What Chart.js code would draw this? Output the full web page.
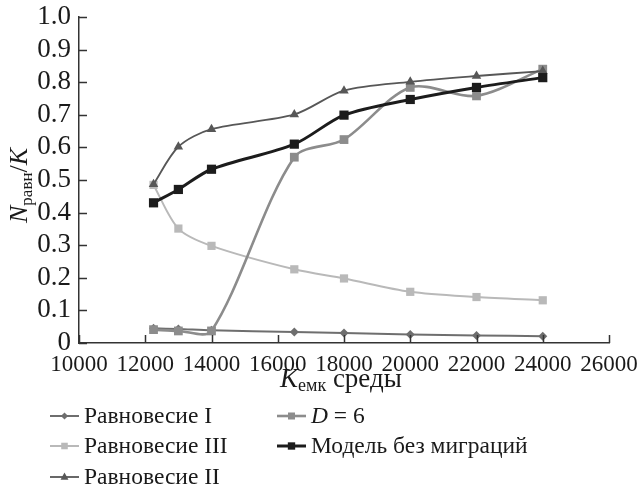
<!DOCTYPE html>
<html>
<head>
<meta charset="utf-8">
<script src="https://cdn.jsdelivr.net/npm/chart.js@4.4.1/dist/chart.umd.min.js"></script>
<style>
  html, body { margin: 0; padding: 0; background: #fff; }
  #wrap { width: 641px; height: 497px; position: relative; }
</style>
</head>
<body>
<div id="wrap"><canvas id="chart"></canvas></div>
<script>
// K (carrying capacity) values
const kValues = [12250, 13000, 14000, 16500, 18000, 20000, 22000, 24000];

// series values, N_eq / K
const eq1 = [0.045, 0.043, 0.039, 0.034, 0.031, 0.026, 0.023, 0.021];
const d6 = [0.041, 0.037, 0.037, 0.570, 0.624, 0.784, 0.758, 0.840];
const eq3 = [0.485, 0.351, 0.298, 0.226, 0.198, 0.157, 0.141, 0.131];
const noMigration = [0.430, 0.471, 0.533, 0.610, 0.699, 0.747, 0.784, 0.814];
const eq2 = [0.487, 0.602, 0.656, 0.701, 0.774, 0.801, 0.819, 0.834];

const xTicks = [10000, 12000, 14000, 16000, 18000, 20000, 22000, 24000, 26000];
const yTicks = [0, 0.1, 0.2, 0.3, 0.4, 0.5, 0.6, 0.7, 0.8, 0.9, 1.0];

const serif = '"Liberation Serif", "DejaVu Serif", serif';
const axisColor = '#333333';

const pts = vals => vals.map((v, i) => ({ x: kValues[i], y: v }));

const series = [
  { label: 'Равновесие I', data: eq1, color: '#6e6e6e', width: 2, style: 'rectRot', r: 4.5, order: 5 },
  { label: 'D = 6', data: d6, color: '#8c8c8c', width: 2.6, style: 'rect', r: 6.2, order: 3 },
  { label: 'Равновесие III', data: eq3, color: '#b9b9b9', width: 2, style: 'rect', r: 5.8, order: 4 },
  { label: 'Модель без миграций', data: noMigration, color: '#1c1c1c', width: 3, style: 'rect', r: 6.5, order: 1 },
  { label: 'Равновесие II', data: eq2, color: '#575757', width: 1.8, style: 'triangle', r: 5.5, order: 2 }
];

function drawMarker(ctx, style, x, y, r, color) {
  ctx.fillStyle = color;
  ctx.beginPath();
  if (style === 'rect') {
    const s = r / Math.SQRT2;
    ctx.rect(x - s, y - s, 2 * s, 2 * s);
  } else if (style === 'rectRot') {
    ctx.moveTo(x, y - r); ctx.lineTo(x + r, y); ctx.lineTo(x, y + r); ctx.lineTo(x - r, y);
    ctx.closePath();
  } else {
    ctx.moveTo(x, y - r); ctx.lineTo(x + r * 0.9, y + r * 0.6); ctx.lineTo(x - r * 0.9, y + r * 0.6);
    ctx.closePath();
  }
  ctx.fill();
}

// inward ticks, axis titles with subscripts, two-column legend
const decor = {
  id: 'decor',
  afterDraw(chart) {
    const { ctx, scales: { x, y } } = chart;
    ctx.save();
    ctx.strokeStyle = axisColor;
    ctx.lineWidth = 1.5;
    ctx.beginPath();
    xTicks.forEach(v => {
      const px = Math.round(x.getPixelForValue(v)) + 0.5;
      ctx.moveTo(px, y.bottom); ctx.lineTo(px, y.bottom - 8);
    });
    yTicks.forEach(v => {
      const py = Math.round(y.getPixelForValue(v)) + 0.5;
      ctx.moveTo(x.left, py); ctx.lineTo(x.left + 8, py);
    });
    ctx.stroke();

    ctx.fillStyle = '#1a1a1a';
    ctx.textBaseline = 'alphabetic';

    // x title: K_емк среды
    let tx = 280, ty = 387;
    ctx.font = 'italic 27px ' + serif;
    ctx.fillText('K', tx, ty); tx += ctx.measureText('K').width;
    ctx.font = '18px ' + serif;
    ctx.fillText('емк', tx, ty + 4); tx += ctx.measureText('емк').width;
    ctx.font = '27px ' + serif;
    ctx.fillText(' среды', tx, ty);

    // y title: N_равн/K (rotated)
    ctx.save();
    ctx.translate(27, 223);
    ctx.rotate(-Math.PI / 2);
    let sx = 0;
    ctx.font = 'italic 26px ' + serif;
    ctx.fillText('N', sx, 0); sx += ctx.measureText('N').width;
    ctx.font = '17px ' + serif;
    ctx.fillText('равн', sx, 5); sx += ctx.measureText('равн').width;
    ctx.font = '26px ' + serif;
    ctx.fillText('/', sx, 0); sx += ctx.measureText('/').width;
    ctx.font = 'italic 26px ' + serif;
    ctx.fillText('K', sx, 0);
    ctx.restore();

    // legend
    const cols = [50, 277];
    const rows = [416, 446, 477];
    const slots = [[0, 0], [1, 0], [0, 1], [1, 1], [0, 2]];
    series.forEach((s, i) => {
      const [c, r] = slots[i];
      const lx = cols[c], ly = rows[r];
      ctx.strokeStyle = s.color;
      ctx.lineWidth = s.width;
      ctx.beginPath(); ctx.moveTo(lx, ly); ctx.lineTo(lx + 29, ly); ctx.stroke();
      drawMarker(ctx, s.style, lx + 14.5, ly, s.r * 0.8, s.color);
      ctx.fillStyle = '#1a1a1a';
      ctx.textBaseline = 'middle';
      let txx = lx + 34;
      if (s.label === 'D = 6') {
        ctx.font = 'italic 23.5px ' + serif;
        ctx.fillText('D', txx, ly + 1); txx += ctx.measureText('D').width;
        ctx.font = '23.5px ' + serif;
        ctx.fillText(' = 6', txx, ly + 1);
      } else {
        ctx.font = '23.5px ' + serif;
        ctx.fillText(s.label, txx, ly + 1);
      }
    });
    ctx.restore();
  }
};

new Chart(document.getElementById('chart'), {
  type: 'line',
  data: {
    datasets: series.map(s => ({
      label: s.label,
      data: pts(s.data),
      borderColor: s.color,
      backgroundColor: s.color,
      borderWidth: s.width,
      pointStyle: s.style,
      pointRadius: s.r,
      pointBorderWidth: 0,
      tension: 0.3,
      order: s.order,
      fill: false
    }))
  },
  options: {
    responsive: true,
    maintainAspectRatio: false,
    animation: false,
    layout: { padding: { left: 0, right: 32, top: 17, bottom: 124 } },
    plugins: { legend: { display: false }, tooltip: { enabled: false } },
    scales: {
      x: {
        type: 'linear',
        min: 10000, max: 26000,
        afterFit: s => { s.height = 30; },
        afterBuildTicks: s => { s.ticks = xTicks.map(v => ({ value: v })); },
        grid: { display: false },
        border: { display: true, color: axisColor, width: 1.5 },
        ticks: {
          color: '#1a1a1a', font: { family: serif, size: 23 }, padding: 0,
          maxRotation: 0, autoSkip: false,
          callback: v => String(v)
        }
      },
      y: {
        min: 0, max: 1,
        afterFit: s => { s.width = 79; },
        afterBuildTicks: s => { s.ticks = yTicks.map(v => ({ value: v })); },
        grid: { display: false },
        border: { display: true, color: axisColor, width: 1.5 },
        ticks: {
          color: '#1a1a1a', font: { family: serif, size: 27 }, padding: 0, autoSkip: false,
          callback: v => v === 0 ? '0' : v.toFixed(1)
        }
      }
    }
  },
  plugins: [decor]
});
</script>
</body>
</html>
